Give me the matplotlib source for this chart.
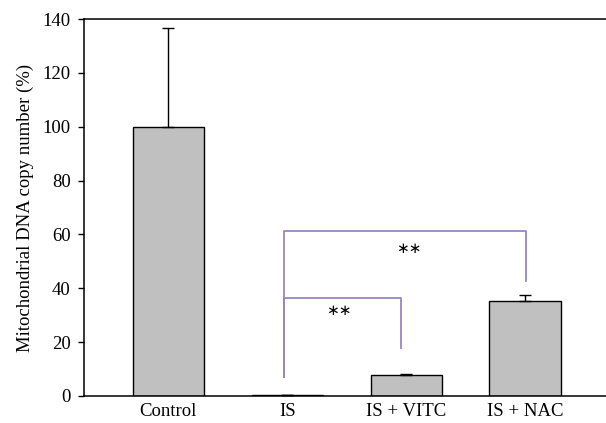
import matplotlib
matplotlib.use("Agg")
import matplotlib.pyplot as plt

categories = ["Control", "IS", "IS + VITC", "IS + NAC"]
values = [100, 0.3, 7.7, 35.4]
errors = [36.8, 0.2, 0.4, 2.0]
yticks = [0, 20, 40, 60, 80, 100, 120, 140]

# brackets: (left x, left bottom, top, right x, right bottom), star pos
brackets = [
    (0.97, 7.2, 61.4, 3.01, 42.7),
    (0.97, 7.2, 36.5, 1.96, 17.9),
]
stars = [(2.02, 54.6), (1.43, 31.6)]

plt.rcParams['font.family'] = ['Liberation Serif', 'DejaVu Serif']
fig = plt.figure(figsize=(6.06, 4.23), dpi=100)
ax = fig.add_axes([0.1386, 0.064, 0.8614, 0.891])

x = range(len(categories))
ax.bar(x, values, width=0.6, color="#c0c0c0", edgecolor="black", linewidth=1.0,
       yerr=[[0]*len(errors), errors], capsize=4,
       error_kw=dict(ecolor="black", elinewidth=1.0, capthick=1.0))

purple = "#9b84c0"
for (lx, lb, top, rx, rb) in brackets:
    ax.plot([lx, lx, rx, rx], [lb, top, top, rb], color=purple, lw=1.3)
for sx, sy in stars:
    ax.text(sx, sy, "∗∗", ha="center", va="center", fontsize=11,
            family=['DejaVu Sans'])

ax.set_xlim(-0.71, 3.68)
ax.set_ylim(0, 140)
ax.set_yticks(yticks)
ax.set_xticks(list(x))
ax.set_xticklabels(categories)
ax.tick_params(axis='x', length=0, labelsize=13.5, pad=5)
ax.tick_params(axis='y', direction='out', length=4.5, labelsize=13.5, width=1, pad=5)
ax.spines['right'].set_visible(False)
for s in ['left', 'bottom', 'top']:
    ax.spines[s].set_linewidth(1.1)
ax.set_ylabel("Mitochondrial DNA copy number (%)", fontsize=13.5, labelpad=6)

fig.savefig("out.png", dpi=100)
